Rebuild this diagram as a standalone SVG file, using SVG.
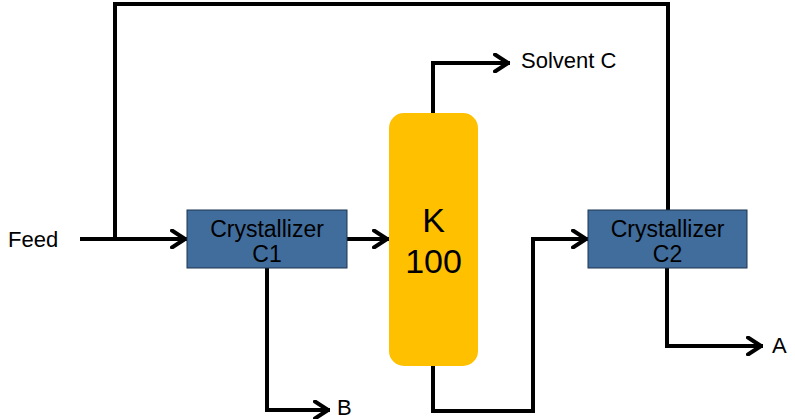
<svg xmlns="http://www.w3.org/2000/svg" width="795" height="419" viewBox="0 0 795 419">
<style>
.t{font-family:"Liberation Sans",Arial,sans-serif;font-size:22px;fill:#000}
.b{font-size:23px}
.c{text-anchor:middle}
.box{fill:#416D9C;stroke:#1E3550;stroke-width:1}
.k{fill:#FFC000}
.ln{fill:none;stroke:#000;stroke-width:4;stroke-linejoin:miter}
</style>
<defs>
<marker id="ar" viewBox="0 0 20 20" markerWidth="20" markerHeight="20" refX="17" refY="10" orient="auto" markerUnits="userSpaceOnUse">
<path d="M2,1.5 L15,10 L2,18.5" fill="none" stroke="#000" stroke-width="4" stroke-linecap="round" stroke-linejoin="round"/>
</marker>
</defs>
<g id="connectors">
<path class="ln" d="M80,239 H187" marker-end="url(#ar)"/>
<path class="ln" d="M115,239 V4 H668 V210"/>
<path class="ln" d="M347,239 H389" marker-end="url(#ar)"/>
<path class="ln" d="M433,113 V63 H510" marker-end="url(#ar)"/>
<path class="ln" d="M433,366 V411 H533 V239 H588" marker-end="url(#ar)"/>
<path class="ln" d="M267,268 V410 H330" marker-end="url(#ar)"/>
<path class="ln" d="M667,268 V346 H763" marker-end="url(#ar)"/>
</g>
<g id="c1">
<rect class="box" x="187" y="210" width="160" height="58"/>
<text class="t b c" x="267" y="237">Crystallizer</text>
<text class="t b c" x="267" y="262">C1</text>
</g>
<g id="k100">
<rect class="k" x="389" y="113" width="89" height="253" rx="15" ry="15"/>
<text class="t c" x="433.5" y="232" style="font-size:34px">K</text>
<text class="t c" x="433.5" y="273" style="font-size:34px">100</text>
</g>
<g id="c2">
<rect class="box" x="588" y="210" width="159" height="58"/>
<text class="t b c" x="667.5" y="237">Crystallizer</text>
<text class="t b c" x="667.5" y="262">C2</text>
</g>
<g id="labels">
<text class="t" x="8" y="247">Feed</text>
<text class="t" x="521" y="68">Solvent C</text>
<text class="t" x="337" y="415">B</text>
<text class="t" x="772" y="353">A</text>
</g>
</svg>
